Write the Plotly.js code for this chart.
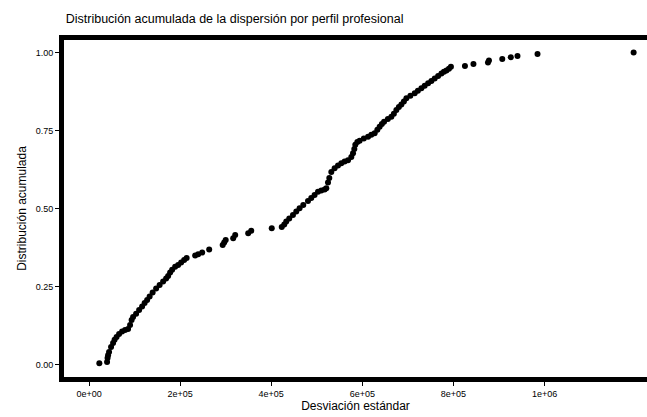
<!DOCTYPE html>
<html>
<head>
<meta charset="utf-8">
<script src="https://cdn.plot.ly/plotly-3.0.1.min.js"></script>
<style>html,body{margin:0;padding:0;background:#fff;}#chart{width:647px;height:417px;}</style>
</head>
<body>
<div id="chart"></div>
<script>
// Desviación estándar (sorted)
const desviacion = [
  22600,
  39560, 40660, 41760, 43960, 48350, 52750, 56040, 60440, 65930, 72530, 79120, 85710,
  90110, 93410, 96700, 103300, 109890, 116480, 121980, 127470, 132970, 139560, 147250,
  154950, 162640, 169230, 173630, 178020, 182420, 189010, 195600, 202200, 208790, 214290,
  232970, 239560, 248350, 263740, 293410, 296700, 300000, 316480, 320880, 349450, 356040,
  401100, 423080,
  428570, 432970, 439560, 447690, 454950, 462200, 470330, 480660, 487910, 495170, 502640,
  509890, 517150, 520880, 524610, 527470, 531870, 539120, 546590, 553850, 561100, 568570,
  575820, 579560, 582420, 584610, 589010, 594060, 603300, 612530, 619780, 627030, 632970,
  638020, 642860, 647690, 656040, 663740, 669230, 674720, 680220, 685710, 691210, 696700,
  705490, 714950, 721980, 729670, 736920, 744390, 751650, 758900, 766370, 773630, 779120,
  784610, 790110, 794510,
  825270, 843960, 875840, 878020, 907260, 925930, 940660, 984610, 1195600
];
// Distribución acumulada
const acumulada = [
  0.004,
  0.008, 0.021, 0.030, 0.040, 0.056, 0.069, 0.079, 0.088, 0.098, 0.106, 0.111, 0.114,
  0.127, 0.143, 0.152, 0.163, 0.175, 0.186, 0.197, 0.207, 0.218, 0.231, 0.244,
  0.255, 0.266, 0.276, 0.284, 0.295, 0.304, 0.313, 0.319, 0.327, 0.335, 0.341,
  0.349, 0.353, 0.359, 0.369, 0.383, 0.391, 0.399, 0.405, 0.415, 0.421, 0.429,
  0.437, 0.441,
  0.449, 0.458, 0.468, 0.479, 0.490, 0.501, 0.511, 0.524, 0.534, 0.543, 0.554,
  0.558, 0.561, 0.565, 0.583, 0.598, 0.617, 0.629, 0.638, 0.645, 0.651, 0.655,
  0.665, 0.677, 0.691, 0.704, 0.713, 0.717, 0.724, 0.730, 0.736, 0.741, 0.752,
  0.762, 0.771, 0.778, 0.787, 0.794, 0.804, 0.816, 0.825, 0.833, 0.843, 0.853,
  0.861, 0.869, 0.877, 0.885, 0.893, 0.901, 0.909, 0.917, 0.925, 0.933, 0.938,
  0.942, 0.948, 0.954,
  0.957, 0.963, 0.968, 0.974, 0.979, 0.985, 0.989, 0.995, 1.000
];
const xTickVals = [0, 200000, 400000, 600000, 800000, 1000000];
const xTickText = ["0e+00", "2e+05", "4e+05", "6e+05", "8e+05", "1e+06"];
const yTickVals = [0, 0.25, 0.5, 0.75, 1];
const yTickText = ["0.00", "0.25", "0.50", "0.75", "1.00"];

const trace = {
  x: desviacion, y: acumulada, type: 'scatter', mode: 'markers',
  marker: {color: '#000', size: 6, line: {width: 0}},
  hoverinfo: 'skip', showlegend: false
};
const layout = {
  width: 647, height: 417,
  margin: {l: 64, r: 0, t: 40, b: 40},
  paper_bgcolor: '#fff', plot_bgcolor: '#fff',
  font: {family: 'Liberation Sans, Arial, sans-serif', color: '#000'},
  title: {text: 'Distribución acumulada de la dispersión por perfil profesional',
          x: 0.003, xref: 'paper', xanchor: 'left', y: 0.955, yanchor: 'middle',
          font: {size: 12.5, color: '#000'}},
  xaxis: {range: [-55000, 1225000], tickvals: xTickVals, ticktext: xTickText,
          showgrid: false, zeroline: false, showline: true, linecolor: '#000', linewidth: 5,
          mirror: true, ticks: 'outside', ticklen: 4, tickcolor: '#000', tickwidth: 1,
          tickfont: {size: 9, color: '#000'},
          title: {text: 'Desviación estándar', font: {size: 12, color: '#000'}, standoff: 1}},
  yaxis: {range: [-0.04, 1.04], tickvals: yTickVals, ticktext: yTickText,
          showgrid: false, zeroline: false, showline: true, linecolor: '#000', linewidth: 5,
          ticks: 'outside', ticklen: 4, tickcolor: '#000', tickwidth: 1,
          tickfont: {size: 9, color: '#000'},
          title: {text: 'Distribución acumulada', font: {size: 12, color: '#000'}, standoff: 8}}
};
Plotly.newPlot('chart', [trace], layout, {displayModeBar: false, staticPlot: true});
</script>
</body>
</html>
